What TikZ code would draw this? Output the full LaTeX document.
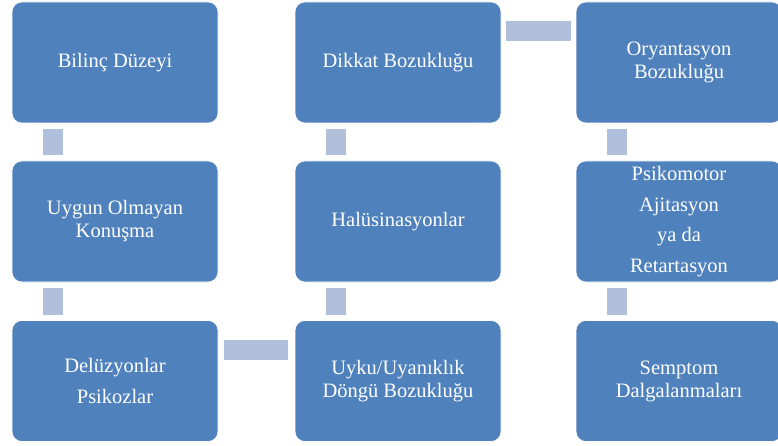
\documentclass[tikz,border=0pt]{standalone}
\usepackage{fontspec}
\setmainfont{Liberation Serif}
\usetikzlibrary{calc}
\definecolor{boxblue}{RGB}{79,129,189}
\definecolor{connblue}{RGB}{176,192,220}
\tikzset{
  box/.style={fill=boxblue, draw=white, line width=0.6pt, rounded corners=10pt,
    minimum width=206pt, minimum height=121pt, inner sep=2pt, outer sep=0pt,
    align=center, text=white, font=\fontsize{20.5}{23}\selectfont},
  widebox/.style={box, font=\fontsize{20.5}{30.5}\selectfont},
  conn/.style={fill=connblue}
}
\begin{document}
\begin{tikzpicture}[x=1pt,y=-1pt]
\useasboundingbox (0,0) rectangle (778,446);
\clip (0,0) rectangle (778,446);
\node[box] (b11) at (115,62.5) {Bilinç Düzeyi};
\node[box] (b21) at (115,221.5) {Uygun Olmayan\\Konuşma};
\node[widebox] (b31) at (115,381) {Delüzyonlar\\Psikozlar};
\node[box] (b12) at (398,62.5) {Dikkat Bozukluğu};
\node[box] (b22) at (398,221.5) {Halüsinasyonlar};
\node[box] (b32) at (398,381) {Uyku/Uyanıklık\\Döngü Bozukluğu};
\node[box] (b13) at (679,62.5) {Oryantasyon\\Bozukluğu};
\node[widebox] (b23) at (679,221.5) {Psikomotor\\Ajitasyon\\ya da\\Retartasyon};
\node[box] (b33) at (679,381) {Semptom\\Dalgalanmaları};
% connectors
\fill[conn] ($(b11.south west)+(31,6)$) rectangle ($(b21.north west)+(51,-6)$);
\fill[conn] ($(b21.south west)+(31,6)$) rectangle ($(b31.north west)+(51,-6)$);
\fill[conn] ($(b31.north east)+(6,19)$) rectangle ($(b32.north west)+(-7,39)$);
\fill[conn] ($(b32.north west)+(31,-6)$) rectangle ($(b22.south west)+(51,6)$);
\fill[conn] ($(b22.north west)+(31,-6)$) rectangle ($(b12.south west)+(51,6)$);
\fill[conn] ($(b12.north east)+(5,19)$) rectangle ($(b13.north west)+(-5,39)$);
\fill[conn] ($(b13.south west)+(31,6)$) rectangle ($(b23.north west)+(51,-6)$);
\fill[conn] ($(b23.south west)+(31,6)$) rectangle ($(b33.north west)+(51,-6)$);
\end{tikzpicture}
\end{document}
